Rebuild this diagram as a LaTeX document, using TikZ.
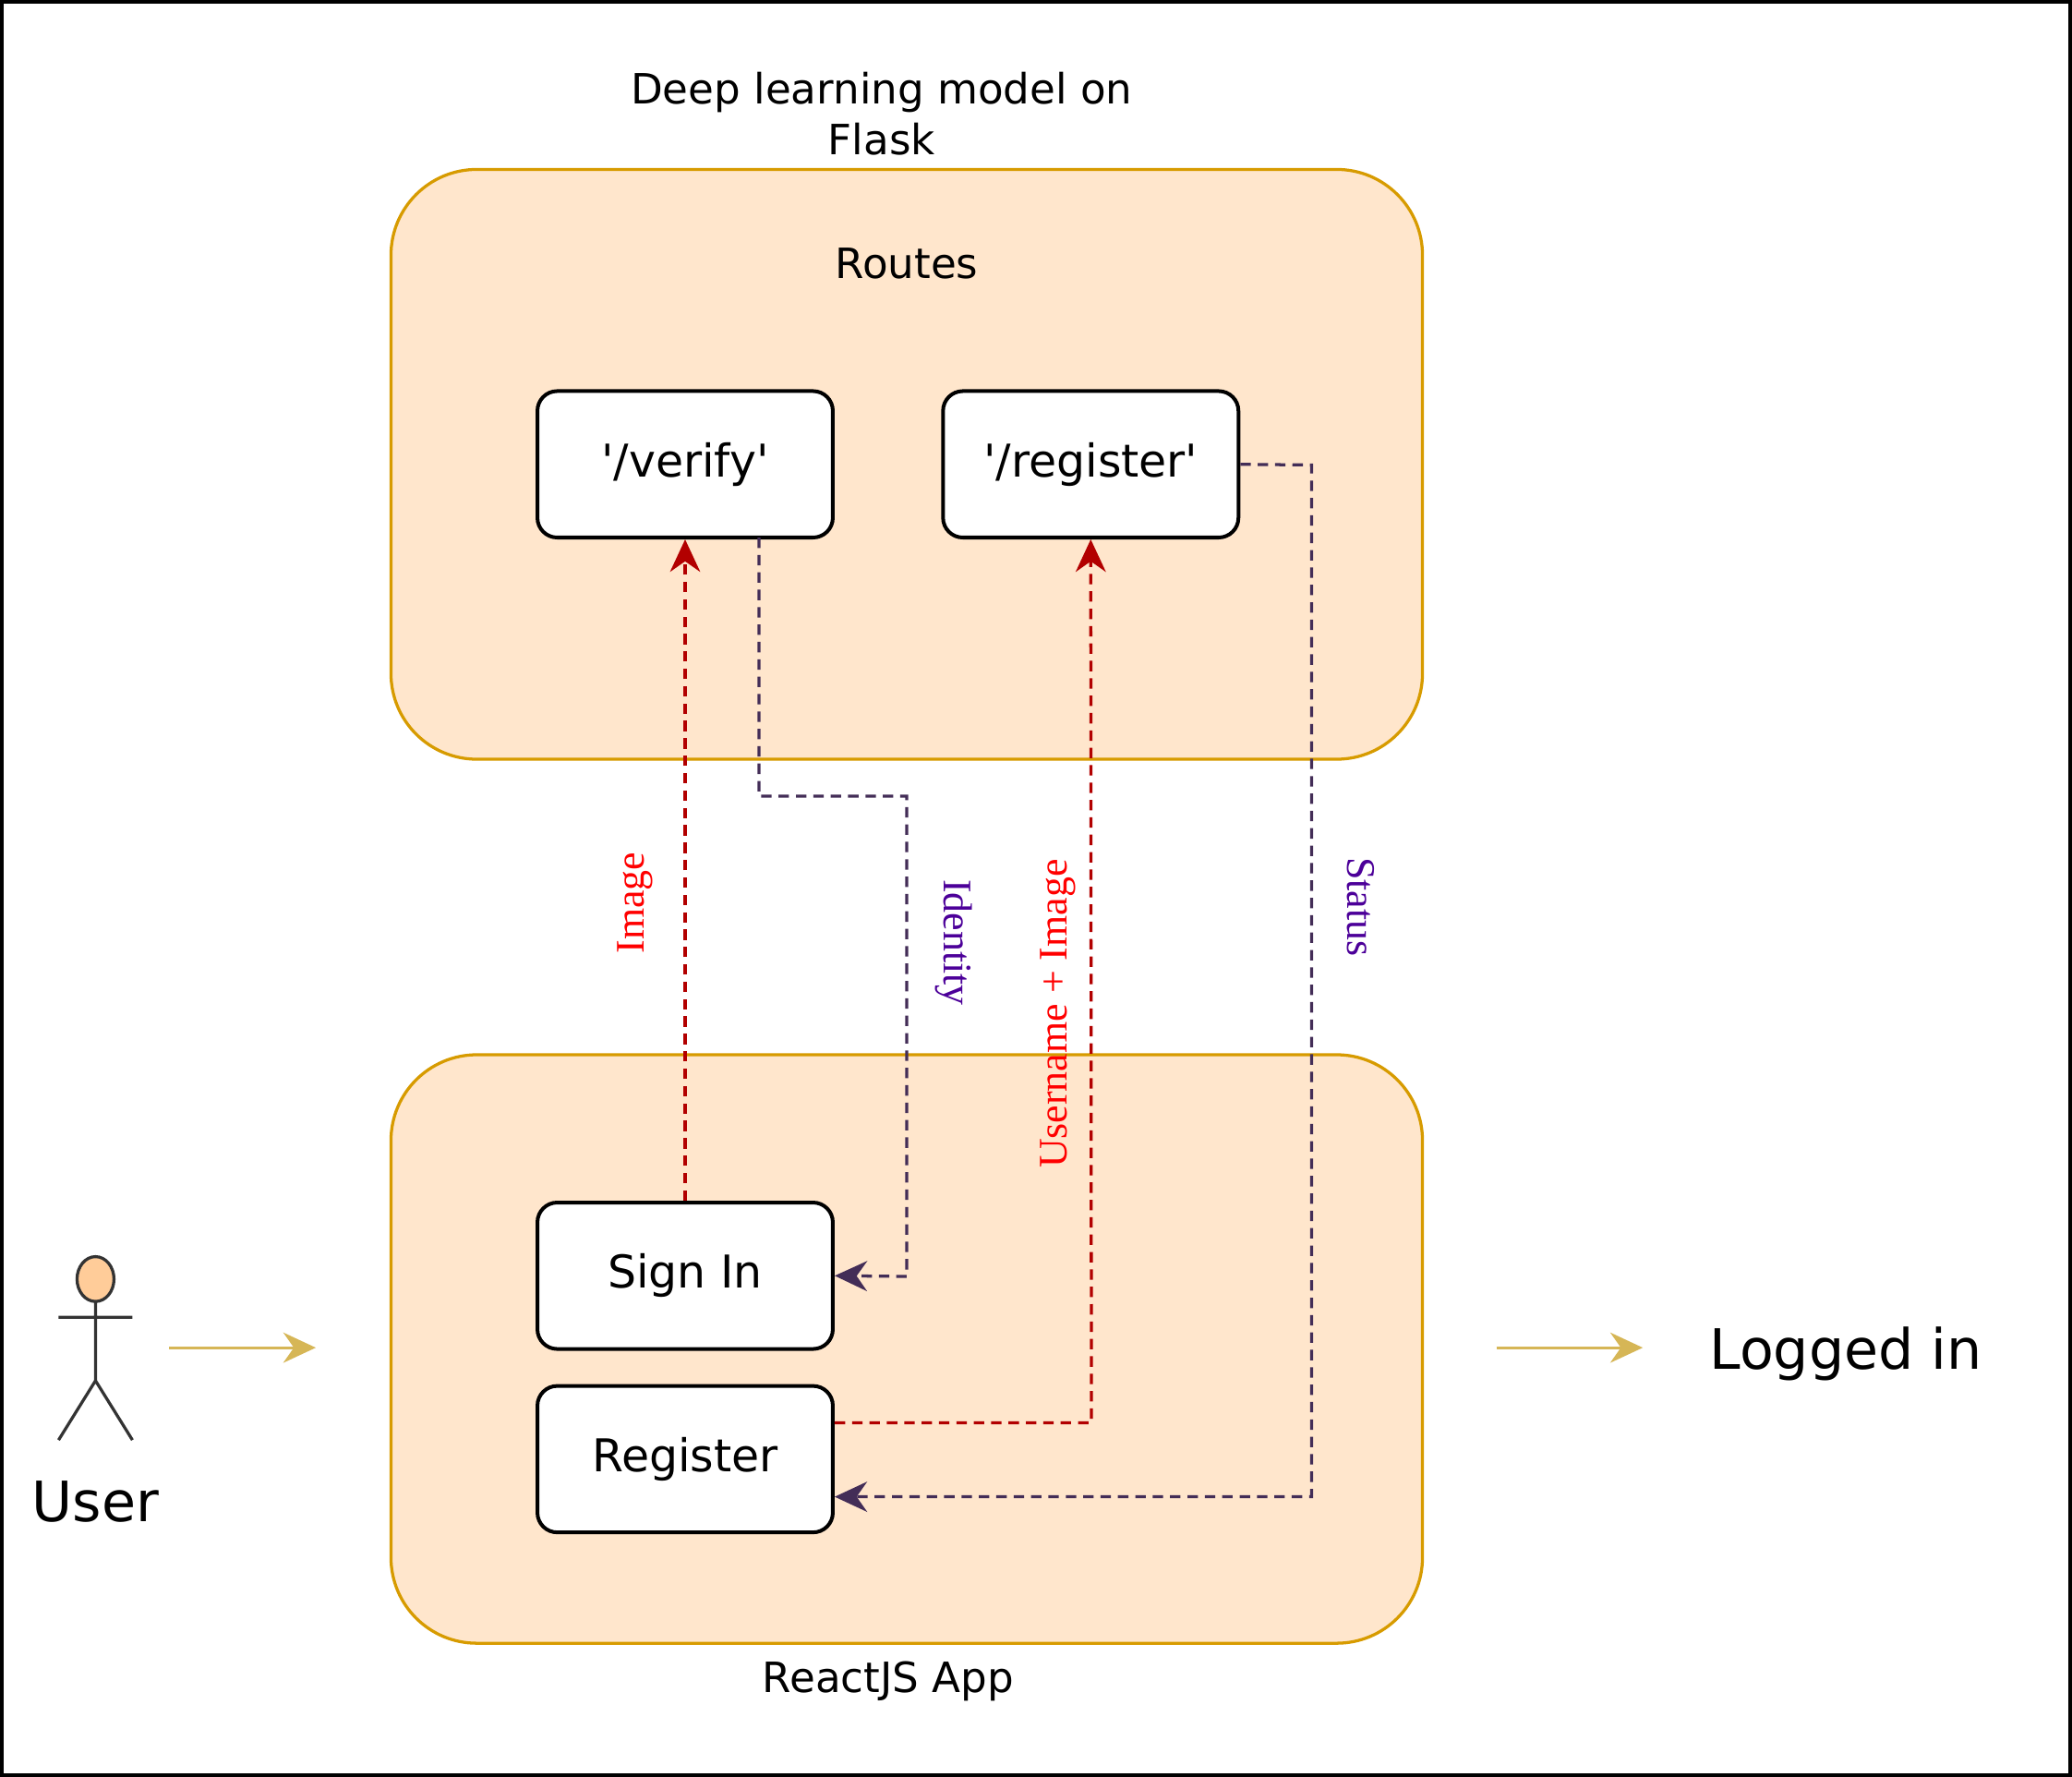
\documentclass[tikz,border=0pt]{standalone}
\usepackage{fontspec}
\setmainfont{DejaVu Sans}
\newfontfamily\serifx{Liberation Serif}
\usetikzlibrary{arrows.meta}
\definecolor{cfill}{HTML}{FFE6CC}
\definecolor{cline}{HTML}{D79B00}
\definecolor{redl}{HTML}{B20000}
\definecolor{darkl}{HTML}{432D57}
\definecolor{purp}{HTML}{4C0099}
\definecolor{gold}{HTML}{D6B656}
\begin{document}
\begin{tikzpicture}[x=0.02cm,y=-0.02cm,
 cont/.style={draw=cline,fill=cfill,line width=1.3pt,rounded corners=1.3cm},
 box/.style={draw=black,fill=white,line width=1.6pt,rounded corners=0.3cm,minimum width=4.48cm,minimum height=2.22cm,font=\fontsize{19.5}{22}\selectfont},
 lbl/.style={font=\fontsize{18}{22}\selectfont,align=center},
 req/.style={draw=redl,dashed,line width=1.3pt,dash pattern=on 4.5pt off 3pt,-{Stealth[length=14pt,width=13pt]}},
 resp/.style={draw=darkl,dashed,line width=1.3pt,dash pattern=on 4.5pt off 3pt,-{Stealth[length=14pt,width=13pt]}},
 el/.style={font=\serifx\fontsize{17.5}{20}\selectfont},
 ga/.style={draw=gold,line width=1.3pt,-{Stealth[length=14pt,width=13pt]}}]
\draw[line width=1.6pt,fill=white] (0,0) rectangle (1568,1344);
\draw[cont] (295,127) rectangle (1077,574);
\draw[cont] (295,798) rectangle (1077,1244);
\node[lbl] (title) at (667,85) {Deep learning model on\\Flask};
\node[lbl] (routes) at (686,198) {Routes};
\node[lbl] (react) at (672,1273) {ReactJS App};
\node[box] (verify) at (518,350.5) {\textquotesingle/verify\textquotesingle};
\node[box] (register) at (825.5,350.5) {\textquotesingle/register\textquotesingle};
\node[box] (signin) at (518,965.5) {Sign In};
\node[box] (reg) at (518,1104.5) {Register};
% user
\draw[draw=black!80,fill=orange!40!white,line width=1.3pt] (71,968) ellipse (14 and 17);
\draw[black!80,line width=1.3pt] (71,985) -- (71,1045) (43,997) -- (99,997) (43,1090) -- (71,1045) -- (99,1090);
\node[font=\fontsize{24}{27}\selectfont] (user) at (71,1137) {User};
\coordinate (ua) at (127,1020); \coordinate (ub) at (238,1020);
\coordinate (la) at (1133,1020); \coordinate (lb) at (1244,1020);
\draw[ga] (ua) -- (ub);
\draw[ga] (la) -- (lb);
\node[font=\fontsize{24}{27}\selectfont] (logged) at (1398,1025) {Logged in};
% connectors
\draw[req] (signin.north) -- (verify.south);
\draw[resp] (574,406) -- (574,602) -- (686,602) -- (686,966) -- (signin.east);
\draw[req] (reg.east |- 0,1077) -- (826,1077) -- (register.south);
\draw[resp] (register.east) -- (993,351) -- (993,1133) -- (reg.east |- 0,1133);
\node[el,text=red,rotate=90] (limg) at (480,683) {Image};
\node[el,text=purp,rotate=-90] (lid) at (722,713) {Identity};
\node[el,text=red,rotate=90] (lui) at (801,767) {Username + Image};
\node[el,text=purp,rotate=-90] (lst) at (1030,686) {Status};
\end{tikzpicture}
\end{document}
